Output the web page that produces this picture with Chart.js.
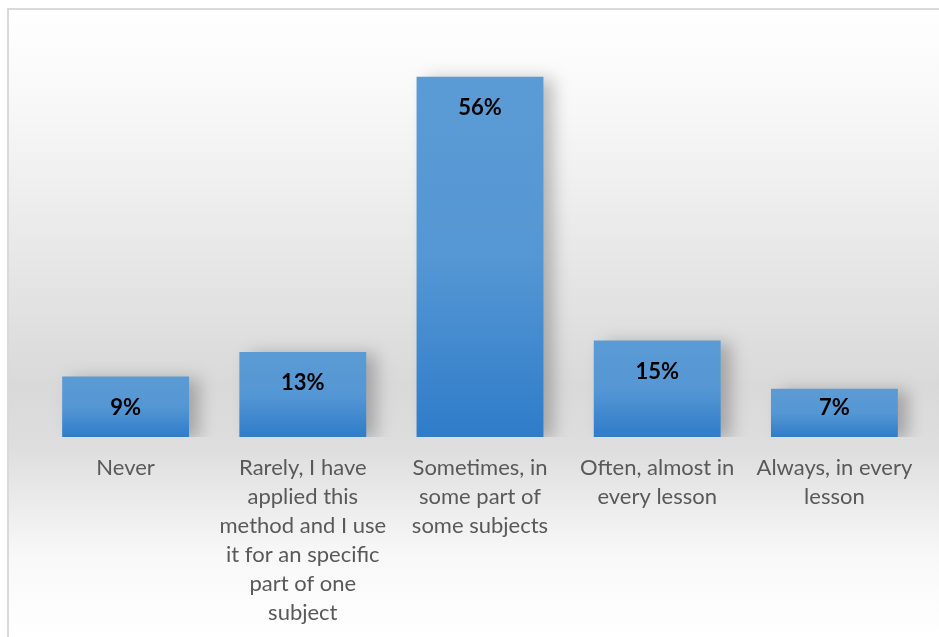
<!DOCTYPE html>
<html>
<head>
<meta charset="utf-8">
<script src="https://cdn.jsdelivr.net/npm/chart.js@4.4.1/dist/chart.umd.min.js"></script>
<style>
html,body{margin:0;padding:0;background:#ffffff;}
canvas{display:block;}
</style>
</head>
<body>
<canvas id="c" width="939" height="637"></canvas>
<script>
const categories = [
  ["Never"],
  ["Rarely, I have", "applied this", "method and I use", "it for an specific", "part of one", "subject"],
  ["Sometimes, in", "some part of", "some subjects"],
  ["Often, almost in", "every lesson"],
  ["Always, in every", "lesson"]
];
const values = [9.4, 13.2, 56, 15, 7.5];
const valueLabels = ["9%", "13%", "56%", "15%", "7%"];

const bgPlugin = {
  id: 'bg',
  beforeDraw(chart) {
    const ctx = chart.ctx;
    const W = chart.width, H = chart.height;
    ctx.save();
    const g = ctx.createLinearGradient(0, 9, 0, H);
    g.addColorStop(0, '#ffffff');
    g.addColorStop(0.15, '#f8f8f8');
    g.addColorStop(0.6, '#d9d9d9');
    g.addColorStop(0.7, '#dedede');
    g.addColorStop(0.87, '#f8f8f8');
    g.addColorStop(1, '#ffffff');
    ctx.fillStyle = g;
    ctx.fillRect(8, 9, W - 8, H - 9);
    ctx.strokeStyle = '#d9d9d9';
    ctx.lineWidth = 2;
    ctx.beginPath();
    ctx.moveTo(8, H);
    ctx.lineTo(8, 9);
    ctx.lineTo(W, 9);
    ctx.stroke();
    ctx.restore();
  }
};

const shadowPlugin = {
  id: 'barShadow',
  beforeDatasetDraw(chart) {
    const ctx = chart.ctx;
    ctx.save();
    ctx.shadowColor = 'rgba(0,0,0,0.25)';
    ctx.shadowBlur = 16;
    ctx.shadowOffsetX = 10;
    ctx.shadowOffsetY = 2;
  },
  afterDatasetDraw(chart) {
    chart.ctx.restore();
  }
};

const labelPlugin = {
  id: 'valLabels',
  afterDatasetsDraw(chart) {
    const ctx = chart.ctx;
    const meta = chart.getDatasetMeta(0);
    ctx.save();
    ctx.font = 'bold 22px Lato, "Open Sans", sans-serif';
    ctx.fillStyle = '#000000';
    ctx.textAlign = 'center';
    ctx.textBaseline = 'middle';
    meta.data.forEach((bar, i) => {
      const y = Math.min(bar.y + 31, bar.base - 29);
      ctx.fillText(valueLabels[i], bar.x, y);
    });
    ctx.restore();
  }
};

new Chart(document.getElementById('c'), {
  type: 'bar',
  data: {
    labels: categories,
    datasets: [{
      data: values,
      backgroundColor(context) {
        const chart = context.chart;
        const ys = chart.scales.y;
        if (!ys || context.raw === undefined) return '#4a8fd4';
        const top = ys.getPixelForValue(context.raw);
        const bottom = ys.getPixelForValue(0);
        if (!isFinite(top) || !isFinite(bottom) || top === bottom) return '#4a8fd4';
        const g = chart.ctx.createLinearGradient(0, top, 0, bottom);
        g.addColorStop(0, '#5b9bd5');
        g.addColorStop(0.5, '#5597d4');
        g.addColorStop(1, '#2f7cc9');
        return g;
      },
      borderWidth: 0,
      categoryPercentage: 1,
      barPercentage: 0.716
    }]
  },
  options: {
    responsive: false,
    animation: false,
    devicePixelRatio: 1,
    layout: { padding: { left: 37, right: 16, top: 51, bottom: 6 } },
    plugins: { legend: { display: false }, tooltip: { enabled: false } },
    scales: {
      x: {
        grid: { display: false, drawTicks: false },
        border: { display: false },
        afterFit(scale) { scale.height = 194; },
        ticks: {
          color: '#595959',
          font: { family: 'Lato, "Open Sans", sans-serif', size: 22, lineHeight: 1.32 },
          padding: 16,
          maxRotation: 0,
          autoSkip: false
        }
      },
      y: {
        display: false,
        min: 0,
        max: 60
      }
    }
  },
  plugins: [bgPlugin, shadowPlugin, labelPlugin]
});
</script>
</body>
</html>
